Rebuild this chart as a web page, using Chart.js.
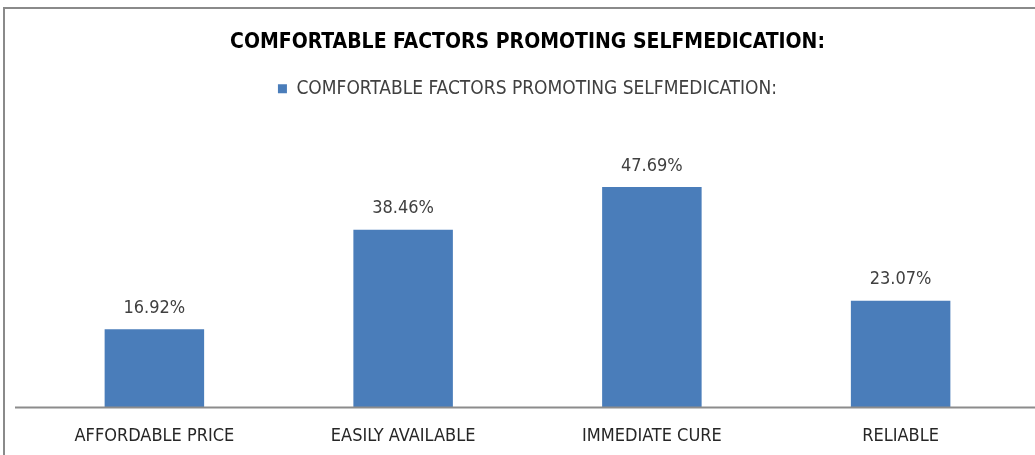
<!DOCTYPE html>
<html>
<head>
<meta charset="utf-8">
<script src="https://cdn.jsdelivr.net/npm/chart.js@4"></script>
<style>
  body { margin: 0; background: #fff; }
  #wrap { position: relative; width: 1035px; height: 455px; overflow: hidden; }
  #frame { position: absolute; left: 3px; top: 7px; width: 1040px; height: 460px; border: 2px solid #8a8a8a; pointer-events: none; }
</style>
</head>
<body>
<div id="wrap">
  <canvas id="grafico" width="1035" height="455"></canvas>
  <div id="frame"></div>
</div>
<script>
const categorias = ['AFFORDABLE PRICE', 'EASILY AVAILABLE', 'IMMEDIATE CURE', 'RELIABLE'];
const valores = [16.92, 38.46, 47.69, 23.07];
const nomeSerie = 'COMFORTABLE FACTORS PROMOTING SELFMEDICATION:';
const titulo = 'COMFORTABLE FACTORS PROMOTING SELFMEDICATION:';

const fonte = "'Liberation Sans Narrow', 'Arial Narrow', 'DejaVu Sans Condensed', sans-serif";

// rotulos em cima das barras
const rotulos = {
    id: 'rotulos',
    afterDatasetsDraw(chart) {
        const ctx = chart.ctx;
        const meta = chart.getDatasetMeta(0);
        ctx.save();
        ctx.font = "18px " + fonte;
        ctx.fillStyle = '#404040';
        ctx.textAlign = 'center';
        ctx.textBaseline = 'middle';
        meta.data.forEach((bar, i) => {
            ctx.fillText(valores[i].toFixed(2) + '%', bar.x, bar.y - 21);
        });
        ctx.restore();
    }
};

// linha do eixo x
const eixo = {
    id: 'eixo',
    afterDraw(chart) {
        const ctx = chart.ctx;
        const y = chart.chartArea.bottom;
        ctx.save();
        ctx.strokeStyle = '#8c8c8c';
        ctx.lineWidth = 2;
        ctx.beginPath();
        ctx.moveTo(15, y);
        ctx.lineTo(chart.width, y);
        ctx.stroke();
        ctx.restore();
    }
};

const espacoLegenda = {
    id: 'espacoLegenda',
    beforeInit(chart) {
        const fit = chart.legend.fit;
        chart.legend.fit = function () {
            fit.bind(chart.legend)();
            this.height += 22;
        };
    }
};

function criarGrafico() {
    const ctx = document.getElementById('grafico');
    return new Chart(ctx, {
        type: 'bar',
        data: {
            labels: categorias,
            datasets: [{
                label: nomeSerie,
                data: valores,
                backgroundColor: '#4a7dba',
                borderWidth: 0,
                categoryPercentage: 0.4,
                barPercentage: 1.0
            }]
        },
        options: {
            responsive: false,
            animation: false,
            layout: {
                padding: { left: 30, right: 10, top: 0, bottom: -2 }
            },
            scales: {
                x: {
                    grid: { display: false },
                    border: { display: false },
                    ticks: {
                        color: '#262626',
                        padding: 10,
                        font: { size: 18, family: fonte }
                    }
                },
                y: {
                    display: false,
                    min: 0,
                    max: 60
                }
            },
            plugins: {
                title: {
                    display: true,
                    text: titulo,
                    color: '#000000',
                    padding: { top: 30, bottom: 14 },
                    font: { size: 21, weight: 'bold', family: fonte }
                },
                legend: {
                    display: true,
                    labels: {
                        boxWidth: 9,
                        boxHeight: 9,
                        color: '#404040',
                        font: { size: 19, family: fonte }
                    }
                },
                tooltip: { enabled: false }
            }
        },
        plugins: [rotulos, eixo, espacoLegenda]
    });
}

criarGrafico();
</script>
</body>
</html>
